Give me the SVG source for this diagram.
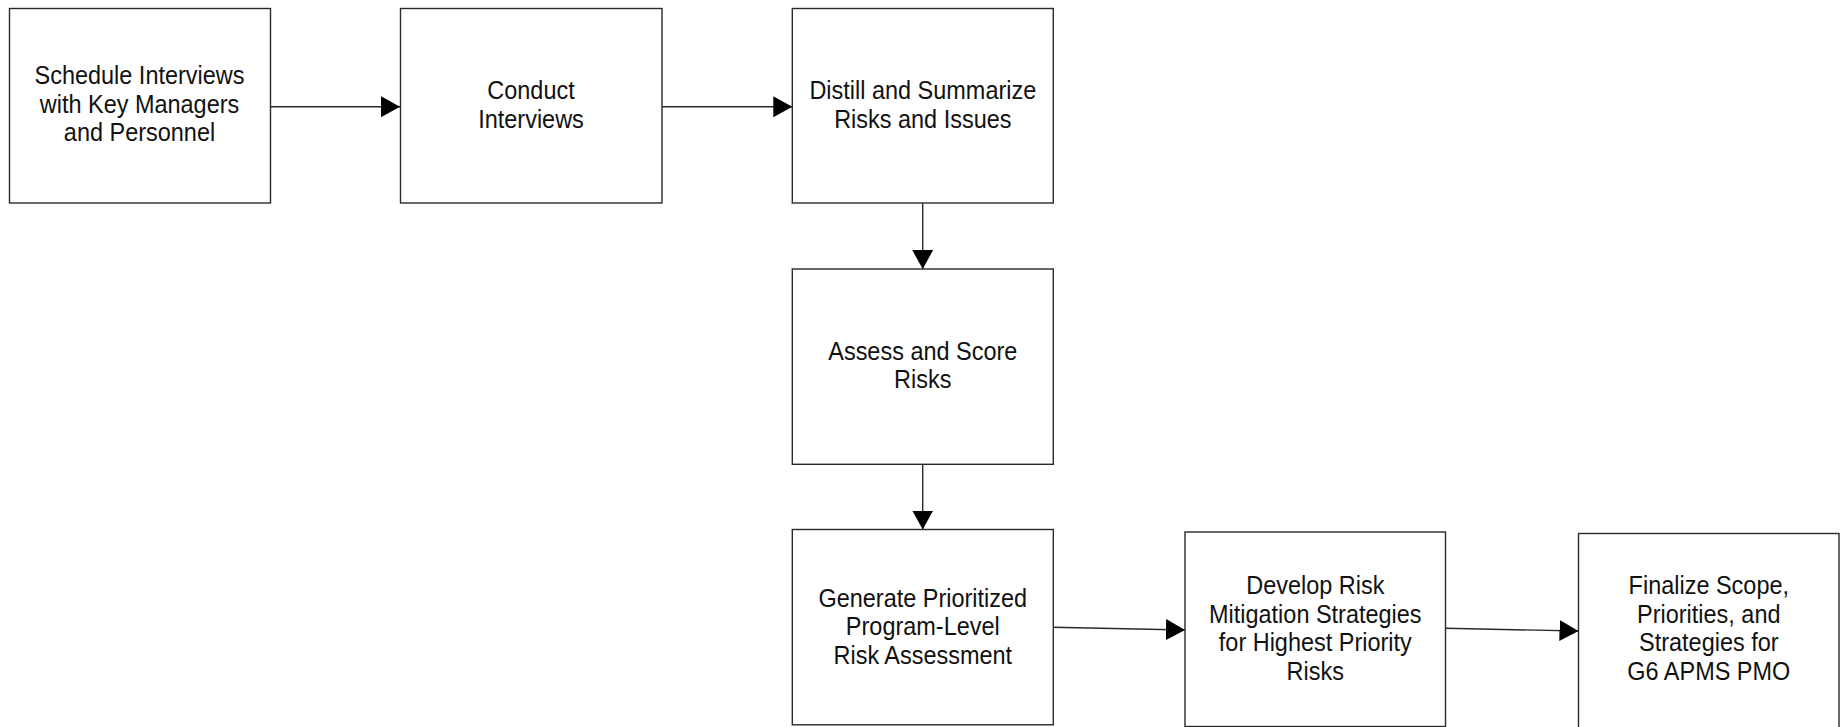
<svg xmlns="http://www.w3.org/2000/svg" width="1842" height="727" viewBox="0 0 1842 727">
<style>
.box{fill:#fff;stroke:#2a2a2a;stroke-width:1.4}
.lbl{font-family:"Liberation Sans",Arial,sans-serif;font-size:26.5px;fill:#111;text-anchor:middle}
.con{fill:none;stroke:#2a2a2a;stroke-width:1.4}
</style>
<defs>
<marker id="ah" markerUnits="userSpaceOnUse" markerWidth="20" markerHeight="22" refX="19" refY="10.5" orient="auto">
<path d="M0,0 L19,10.5 L0,21 Z" fill="#000"/>
</marker>
</defs>
<rect width="1842" height="727" fill="#fff"/>
<g id="connectors">
<line class="con" x1="270.5" y1="106.7" x2="400" y2="106.7" marker-end="url(#ah)"/>
<line class="con" x1="662" y1="106.7" x2="792.3" y2="106.7" marker-end="url(#ah)"/>
<line class="con" x1="922.7" y1="203.3" x2="922.7" y2="269" marker-end="url(#ah)"/>
<line class="con" x1="922.7" y1="464.3" x2="922.7" y2="529.5" marker-end="url(#ah)"/>
<line class="con" x1="1053" y1="627.3" x2="1185" y2="630" marker-end="url(#ah)"/>
<line class="con" x1="1445.5" y1="628.3" x2="1578.5" y2="631" marker-end="url(#ah)"/>
</g>
<g id="n1">
<rect class="box" x="9.5" y="8.5" width="261" height="194.5"/>
<text class="lbl" transform="matrix(0.886 0 0 1 139.5 0)"><tspan x="0" y="84.5">Schedule Interviews</tspan><tspan x="0" y="113">with Key Managers</tspan><tspan x="0" y="141.5">and Personnel</tspan></text>
</g>
<g id="n2">
<rect class="box" x="400.5" y="8.5" width="261.5" height="194.5"/>
<text class="lbl" transform="matrix(0.886 0 0 1 531 0)"><tspan x="0" y="99">Conduct</tspan><tspan x="0" y="127.7">Interviews</tspan></text>
</g>
<g id="n3">
<rect class="box" x="792.3" y="8.5" width="261" height="194.5"/>
<text class="lbl" transform="matrix(0.886 0 0 1 922.8 0)"><tspan x="0" y="99">Distill and Summarize</tspan><tspan x="0" y="127.7">Risks and Issues</tspan></text>
</g>
<g id="n4">
<rect class="box" x="792.3" y="269" width="261" height="195.3"/>
<text class="lbl" transform="matrix(0.886 0 0 1 922.8 0)"><tspan x="0" y="360">Assess and Score</tspan><tspan x="0" y="388.5">Risks</tspan></text>
</g>
<g id="n5">
<rect class="box" x="792.3" y="529.5" width="261" height="195.3"/>
<text class="lbl" transform="matrix(0.886 0 0 1 922.8 0)"><tspan x="0" y="607">Generate Prioritized</tspan><tspan x="0" y="635.5">Program-Level</tspan><tspan x="0" y="664">Risk Assessment</tspan></text>
</g>
<g id="n6">
<rect class="box" x="1185" y="532" width="260.5" height="194.5"/>
<text class="lbl" transform="matrix(0.886 0 0 1 1315.3 0)"><tspan x="0" y="594.5">Develop Risk</tspan><tspan x="0" y="623">Mitigation Strategies</tspan><tspan x="0" y="651.5">for Highest Priority</tspan><tspan x="0" y="680">Risks</tspan></text>
</g>
<g id="n7">
<rect class="box" x="1578.5" y="533.5" width="260.5" height="200"/>
<text class="lbl" transform="matrix(0.886 0 0 1 1708.8 0)"><tspan x="0" y="594.5">Finalize Scope,</tspan><tspan x="0" y="623">Priorities, and</tspan><tspan x="0" y="651.5">Strategies for</tspan><tspan x="0" y="680">G6 APMS PMO</tspan></text>
</g>
</svg>
